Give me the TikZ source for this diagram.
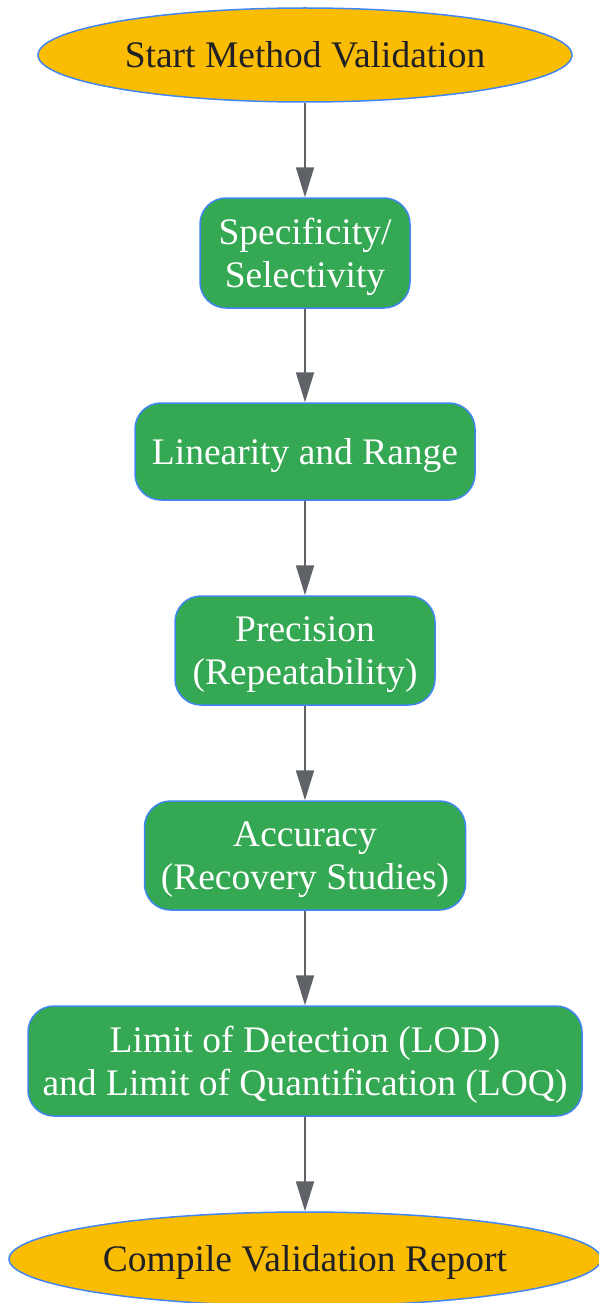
\documentclass[tikz,border=0pt]{standalone}
\usepackage{fontspec}
\setmainfont{Liberation Serif}
\usetikzlibrary{shapes.geometric}
\usetikzlibrary{arrows.meta}

\definecolor{termfill}{RGB}{251,188,4}
\definecolor{stepfill}{RGB}{52,168,83}
\definecolor{edgeblue}{RGB}{66,133,244}
\definecolor{arrowgray}{RGB}{95,99,104}
\definecolor{termtext}{RGB}{32,33,36}

% line strut, so text sits as in a browser line box
\newcommand{\lnstrut}{\rule[-8pt]{0pt}{41.5pt}}

\tikzset{
    terminal/.style={ellipse, draw=edgeblue, line width=1.5pt, fill=termfill, text=termtext, inner sep=0pt, minimum height=94pt, font=\fontsize{37.5}{43}\selectfont, execute at begin node=\lnstrut},
    stepbox/.style={rectangle, rounded corners=26pt, draw=edgeblue, line width=1.5pt, fill=stepfill, text=white, align=center, inner sep=0pt, minimum height=109pt, font=\fontsize{37.5}{43}\selectfont, execute at begin node=\lnstrut},
    flow/.style={draw=arrowgray, line width=2pt, -{Triangle[length=30pt,width=18pt]}}
}

\begin{document}
\begin{tikzpicture}[x=1pt, y=-1pt]

        \useasboundingbox (0,0) rectangle (598,1303);

        \coordinate (c0) at (305,55);
        \coordinate (c1) at (305,253);
        \coordinate (c2) at (305,451.5);
        \coordinate (c3) at (305,650.5);
        \coordinate (c4) at (305,855.5);
        \coordinate (c5) at (305,1061);
        \coordinate (c6) at (305,1259);

        \node[terminal, minimum width=534pt] (n0) at (c0) {Start Method Validation};
        \node[stepbox, minimum width=210pt, minimum height=110pt] (n1) at (c1) {\lnstrut Specificity/\\\lnstrut Selectivity};
        \node[stepbox, minimum width=340pt, minimum height=97pt] (n2) at (c2) {Linearity and Range};
        \node[stepbox, minimum width=260pt] (n3) at (c3) {\lnstrut Precision\\\lnstrut (Repeatability)};
        \node[stepbox, minimum width=321pt] (n4) at (c4) {\lnstrut Accuracy\\\lnstrut (Recovery Studies)};
        \node[stepbox, minimum width=554pt, minimum height=110pt] (n5) at (c5) {\lnstrut Limit of Detection (LOD)\\\lnstrut and Limit of Quantification (LOQ)};
        \node[terminal, minimum width=592pt] (n6) at (c6) {Compile Validation Report};

        \foreach \x [evaluate=\x as \y using int(\x+1)] in {0,...,5}
            \path[flow] (n\x) -- (n\y);

    \end{tikzpicture}
\end{document}
